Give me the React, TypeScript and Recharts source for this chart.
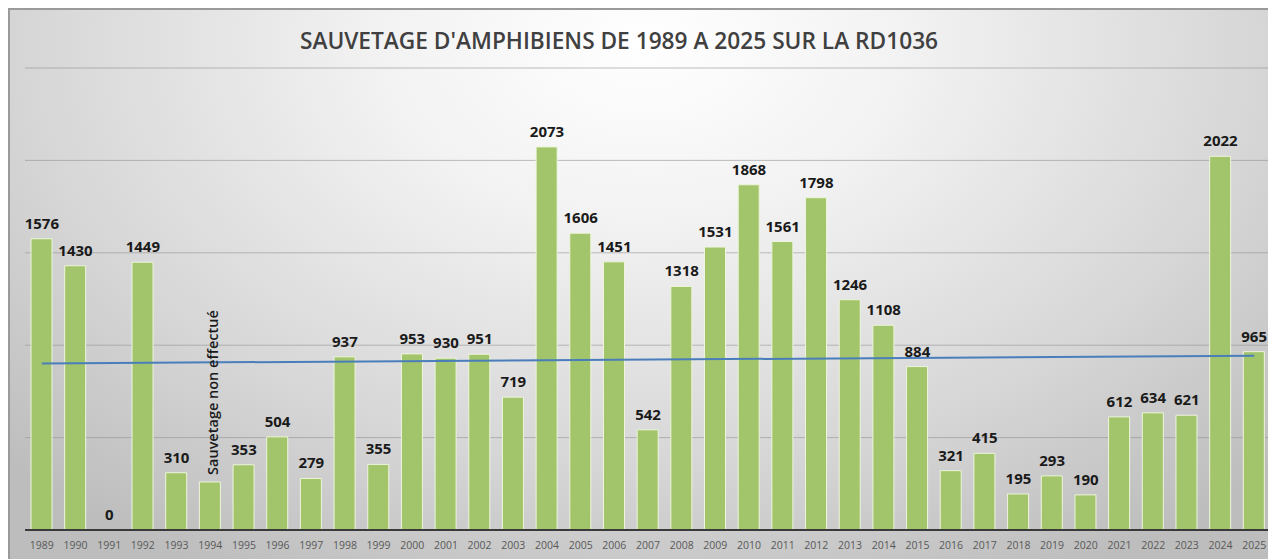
import React from 'react';
import { ComposedChart, Bar, Line, XAxis, YAxis, CartesianGrid, LabelList } from 'recharts';

const years = [
  '1989', '1990', '1991', '1992', '1993', '1994', '1995', '1996', '1997', '1998',
  '1999', '2000', '2001', '2002', '2003', '2004', '2005', '2006', '2007', '2008',
  '2009', '2010', '2011', '2012', '2013', '2014', '2015', '2016', '2017', '2018',
  '2019', '2020', '2021', '2022', '2023', '2024', '2025',
];

// amphibians rescued per year (1994: no rescue, bar kept as in the original)
const rescued = [
  1576, 1430, 0, 1449, 310, 260, 353, 504, 279, 937,
  355, 953, 930, 951, 719, 2073, 1606, 1451, 542, 1318,
  1531, 1868, 1561, 1798, 1246, 1108, 884, 321, 415, 195,
  293, 190, 612, 634, 621, 2022, 965,
];

const labels = rescued.map((v, i) => (years[i] === '1994' ? 'Sauvetage non effectué' : String(v)));

// linear trend, read at both ends
const trendStart = 901;
const trendEnd = 943;

const yTicks = [0, 500, 1000, 1500, 2000, 2500];

const data = years.map((year, i) => ({
  year,
  value: rescued[i],
  label: labels[i],
  trend: i === 0 ? trendStart : i === years.length - 1 ? trendEnd : null,
}));

// labels hang on an invisible line so that the 0 of 1991 is drawn too
const BarLabel = (props: any) => {
  const { x, y, value } = props;
  if (!/^\d+$/.test(String(value))) {
    const cx = x + 2;
    const by = y - 7;
    return (
      <text
        x={cx}
        y={by}
        transform={`rotate(-90, ${cx}, ${by})`}
        textAnchor="start"
        dominantBaseline="central"
        fontSize={14.5}
        fontWeight={600}
        fill="#1a1a1a"
        fontFamily="'Open Sans', sans-serif"
      >
        {value}
      </text>
    );
  }
  return (
    <text
      x={x}
      y={y - 10}
      textAnchor="middle"
      fontSize={15}
      fontWeight={700}
      fill="#1a1a1a"
      fontFamily="'Open Sans', sans-serif"
    >
      {value}
    </text>
  );
};

export default function App() {
  return (
    <div
      style={{
        position: 'relative',
        width: 1268,
        height: 551,
        boxSizing: 'border-box',
        borderTop: '2px solid #9a9a9a',
        borderLeft: '2px solid #9a9a9a',
        background:
          'radial-gradient(ellipse 70% 110% at 50% 6%, #ffffff 0%, #f2f2f2 30%, #d6d6d6 70%, #bdbdbd 100%)',
        fontFamily: "'Open Sans', sans-serif",
        overflow: 'hidden',
      }}
    >
      <div
        style={{
          position: 'absolute',
          top: 15,
          left: 0,
          width: 1218,
          textAlign: 'center',
          fontSize: 22.7,
          fontWeight: 600,
          color: '#404040',
        }}
      >
        SAUVETAGE D'AMPHIBIENS DE 1989 A 2025 SUR LA RD1036
      </div>
      <div style={{ position: 'absolute', top: -2, left: -2 }}>
        <ComposedChart
          width={1268}
          height={551}
          data={data}
          margin={{ top: 60, right: 5, left: 17, bottom: 0 }}
          barSize={21}
        >
          <CartesianGrid vertical={false} stroke="#8c8c8c" strokeOpacity={0.55} />
          <YAxis hide domain={[0, 2500]} ticks={yTicks} />
          <XAxis
            dataKey="year"
            height={29}
            tickLine={false}
            tickSize={0}
            tickMargin={12}
            axisLine={{ stroke: '#3a3a3a', strokeWidth: 2 }}
            interval={0}
            tick={{ fontSize: 10.5, fill: '#595959' }}
          />
          <Bar
            dataKey="value"
            fill="#a2c46a"
            stroke="#eef5dc"
            strokeWidth={1}
            isAnimationActive={false}
          />
          <Line
            dataKey="trend"
            stroke="#4a7ebb"
            strokeWidth={2}
            dot={false}
            connectNulls
            isAnimationActive={false}
          />
          <Line
            dataKey="value"
            stroke="none"
            dot={false}
            activeDot={false}
            legendType="none"
            isAnimationActive={false}
          >
            <LabelList dataKey="label" content={BarLabel} />
          </Line>
        </ComposedChart>
      </div>
    </div>
  );
}
